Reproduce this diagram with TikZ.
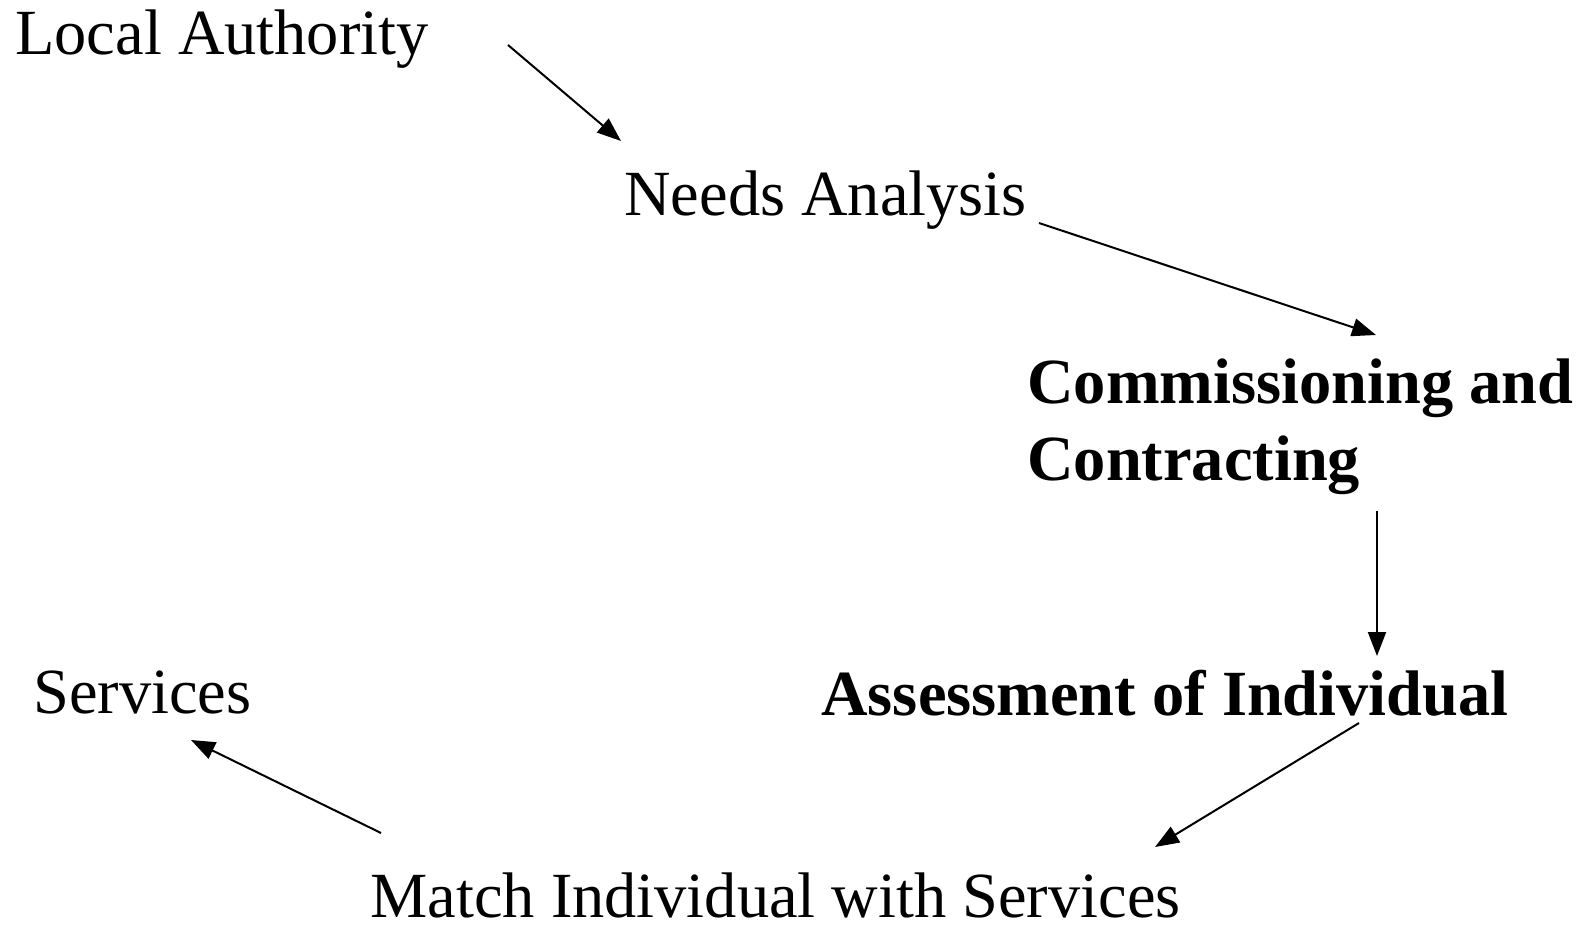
\documentclass[tikz,border=0pt]{standalone}
\usepackage{fontspec}
\setmainfont{Liberation Serif}
\usetikzlibrary{positioning,arrows.meta}
\tikzset{x=0.5pt, y=-0.5pt,
  every node/.style={inner sep=0pt, anchor=base west, font=\fontsize{32.2}{38.5}\selectfont},
  >={Triangle[length=12pt, width=9pt]}, flow/.style={->, line width=1pt}}

\begin{document}
\begin{tikzpicture}
\useasboundingbox (0,0) rectangle (1579,925);
\node (la) at (15,55) {Local Authority};
\node (na) at (624,216) {Needs Analysis};
\node (cc) at (1027,480) [align=left] {\textbf{Commissioning and}\\\textbf{Contracting}};
\node (ai) at (821,715) {\textbf{Assessment of Individual}};
\node (sv) at (33,713) {Services};
\node (mis) at (370,917) {Match Individual with Services};
% arrow ends
\coordinate (la-o) at (508,45);
\coordinate (na-i) at (621,141);
\coordinate (na-o) at (1039,223);
\coordinate (cc-i) at (1376,335);
\coordinate (cc-o) at (1377,511);
\coordinate (ai-i) at (1377,656);
\coordinate (ai-o) at (1359,723);
\coordinate (mis-i) at (1155,847);
\coordinate (mis-o) at (381,833);
\coordinate (sv-i) at (191,740);
\draw[flow] (la-o) to (na-i);
\draw[flow] (na-o) to (cc-i);
\draw[flow] (cc-o) to (ai-i);
\draw[flow] (ai-o) to (mis-i);
\draw[flow] (mis-o) to (sv-i);
\end{tikzpicture}
\end{document}
